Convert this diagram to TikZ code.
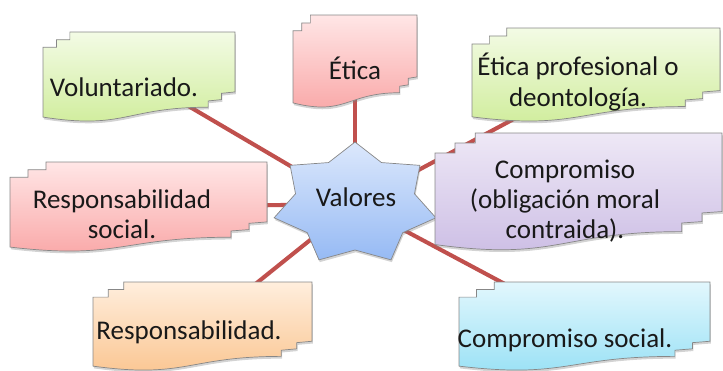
\documentclass[tikz,border=0pt]{standalone}
\usepackage{fontspec}
\setmainfont{Carlito}
\usetikzlibrary{calc,fit,shadows,backgrounds}
\definecolor{linkred}{RGB}{192,80,77}
\definecolor{docgray}{RGB}{135,135,135}
\definecolor{textgray}{RGB}{25,25,25}
\definecolor{greenTop}{RGB}{243,251,229}
\definecolor{greenBot}{RGB}{206,236,152}
\definecolor{redTop}{RGB}{255,230,230}
\definecolor{redBot}{RGB}{249,165,165}
\definecolor{lilacTop}{RGB}{238,232,246}
\definecolor{lilacBot}{RGB}{203,188,228}
\definecolor{orangeTop}{RGB}{255,238,221}
\definecolor{orangeBot}{RGB}{250,196,142}
\definecolor{cyanTop}{RGB}{226,247,253}
\definecolor{cyanBot}{RGB}{150,224,245}
\definecolor{starTop}{RGB}{220,232,252}
\definecolor{starBot}{RGB}{150,186,244}

% multi document shape round a box node: name, top colour, bottom colour
\newcommand\multidoc[3]{%
\path[docshape,top color=#2,bottom color=#3] let \p1=(#1.north west), \p2=(#1.south east),
  \n1={0.07*(\x2-\x1)}, \n2={0.085*(\y1-\y2)}, \n3={(\y1-\y2)-2*\n2}, \n4={(\x2-\x1)-2*\n1} in
  (\x1,\y1-2*\n2) -- (\x1+\n1,\y1-2*\n2) -- (\x1+\n1,\y1-\n2) -- (\x1+2*\n1,\y1-\n2) -- (\x1+2*\n1,\y1)
  -- (\x2,\y1) -- (\x2,\y1-0.802*\n3) -- (\x2-\n1,\y1-0.802*\n3-1) -- (\x2-\n1,\y1-\n2-0.802*\n3)
  -- (\x2-2*\n1,\y1-\n2-0.802*\n3-1) -- (\x2-2*\n1,\y1-2*\n2-0.802*\n3)
  .. controls (\x1+0.5*\n4,\y1-2*\n2-0.802*\n3) and (\x1+0.5*\n4,\y1-2*\n2-1.107*\n3) .. (\x1,\y1-2*\n2-0.934*\n3) -- cycle;}

\begin{document}
\begin{tikzpicture}[x=0.025cm,y=-0.025cm]

\tikzset{docshape/.style={draw=docgray,line width=0.5pt,drop shadow={shadow xshift=0.6pt,shadow yshift=-1.6pt,opacity=0.35}},
boxarea/.style={inner sep=0pt,outer sep=0pt},
doctext/.style={font=\fontsize{19.2}{21.5}\selectfont,text=textgray,align=center,inner sep=0pt},
link/.style={draw=linkred,line width=2.9pt}}

\useasboundingbox (0,0) rectangle (723,370);

% Star
\coordinate (valStar) at (355,204);
\path[docshape,top color=starTop,bottom color=starBot] (355,142) \foreach \k in {0,...,6} {
  -- ({355+61*cos(-90+\k*360/7+360/14)},{204+46*sin(-90+\k*360/7+360/14)})
  -- ({355+83*cos(-90+(\k+1)*360/7)},{204+62*sin(-90+(\k+1)*360/7)}) } -- cycle;

% Boxes
\foreach \name/\xa/\ya/\xb/\yb/\ct/\cb in {volBox/43/32/235/122/greenTop/greenBot,
  eticaBox/293/15/417/108/redTop/redBot, profBox/472/28/720/122/greenTop/greenBot,
  compBox/435/133/722/251/lilacTop/lilacBot, rsocBox/10/162/267/252/redTop/redBot,
  respBox/93/282/312/371/orangeTop/orangeBot, csocBox/459/282/710/371/cyanTop/cyanBot}
  {\node[boxarea,fit={(\xa,\ya) (\xb,\yb)}] (\name) {};
   \multidoc{\name}{\ct}{\cb}}

% Texts
\node[doctext] (valText) at (356,197) {Valores};
\node[doctext] (volText) at (124,87) {Voluntariado.};
\node[doctext] (eticaText) at (355,68) {Ética};
\node[doctext] (profText) at (578,82) {Ética profesional o\\deontología.};
\node[doctext] (compText) at (565,201) {Compromiso\\(obligación moral\\contraida).};
\node[doctext] (rsocText) at (122,214) {Responsabilidad\\social.};
\node[doctext] (respText) at (189,332) {Responsabilidad.};
\node[doctext] (csocText) at (565,340) {Compromiso social.};

% Links
\begin{scope}[on background layer]
\foreach \b in {volBox,eticaBox,profBox,rsocBox,respBox,csocBox} \draw[link] (valStar) -- (\b.center);
\end{scope}

\end{tikzpicture}
\end{document}
